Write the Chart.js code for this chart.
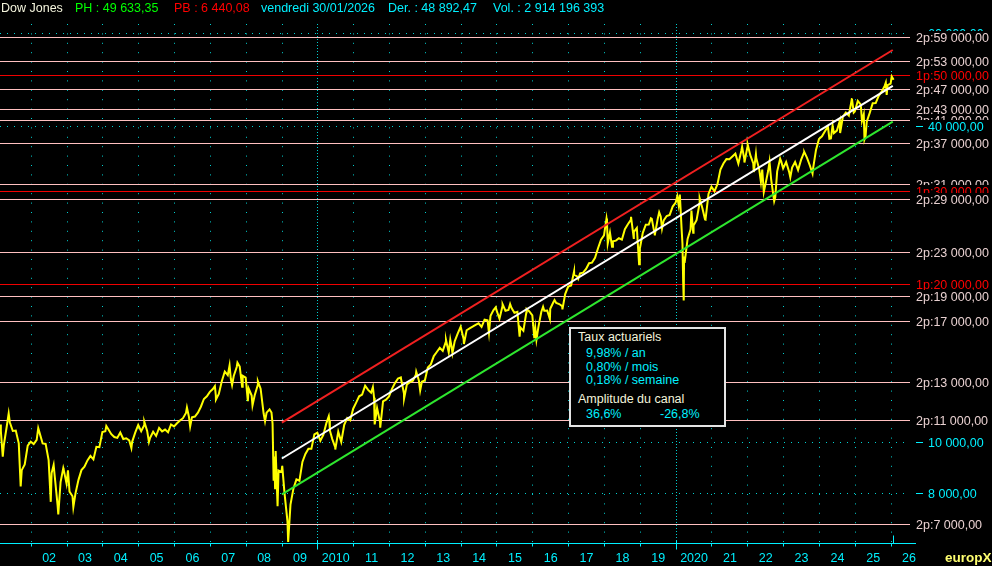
<!DOCTYPE html>
<html><head><meta charset="utf-8">
<script src="https://cdn.jsdelivr.net/npm/chart.js@4/dist/chart.umd.min.js"></script>
<style>
html,body{margin:0;padding:0;background:#000;overflow:hidden}
#wrap{position:relative;width:992px;height:566px;background:#000}
canvas{position:absolute;left:0;top:0}
.t{position:absolute;font-family:"Liberation Sans",Arial,sans-serif;font-size:12.5px;white-space:nowrap;line-height:15px}
#box{position:absolute;left:569px;top:327px;width:153px;height:96px;border:2px solid #E4E4E4;background:#000}
</style></head><body>
<div id="wrap">
<canvas id="c" width="992" height="566"></canvas>
<div class="t" style="left:1px;top:0.5px;color:#F4F4DC">Dow Jones</div>
<div class="t" style="left:75px;top:0.5px;color:#00FF00">PH : 49 633,35</div>
<div class="t" style="left:174px;top:0.5px;color:#FF0000">PB : 6 440,08</div>
<div class="t" style="left:261px;top:0.5px;color:#00F0FF">vendredi 30/01/2026</div>
<div class="t" style="left:388px;top:0.5px;color:#00F0FF">Der. : 48 892,47</div>
<div class="t" style="left:493px;top:0.5px;color:#00F0FF">Vol. : 2 914 196 393</div>
<div id="box"></div>
<div class="t" style="left:578px;top:329.5px;color:#F4F4DC">Taux actuariels</div>
<div class="t" style="left:586px;top:345.5px;color:#00F0FF">9,98% / an</div>
<div class="t" style="left:586px;top:359.5px;color:#00F0FF">0,80% / mois</div>
<div class="t" style="left:586px;top:373px;color:#00F0FF">0,18% / semaine</div>
<div class="t" style="left:578px;top:391.5px;color:#F4F4DC">Amplitude du canal</div>
<div class="t" style="left:586px;top:407px;color:#00F0FF">36,6%</div>
<div class="t" style="left:660px;top:407px;color:#00F0FF">-26,8%</div>
<div class="t" style="left:945px;top:549.5px;color:#FFFF70;font-weight:bold;font-size:13.5px">europX</div>
</div>
<script>
// ---------- DATA ----------
// Monthly closes starting Feb 2001 (end of month), ending Jan 2026
const startYear = 2001, startMonth = 2;
const monthlyClose = [
  10495, 9879, 10735, 10912, 10502, 10523, 9950, 8848, 9075, 9852, 10022,
  9920, 10106, 10404, 9946, 9925, 9243, 8737, 8664, 7592, 8397, 8896, 8342,
  8054, 7891, 7992, 8480, 8850, 8985, 9234, 9416, 9275, 9801, 9782, 10454,
  10488, 10584, 10358, 10226, 10188, 10435, 10140, 10174, 10080, 10027, 10428, 10783,
  10490, 10766, 10504, 10193, 10467, 10275, 10641, 10482, 10569, 10440, 10806, 10718,
  10865, 10993, 11109, 11367, 11168, 11150, 11186, 11381, 11679, 12081, 12221, 12463,
  12622, 12269, 12354, 13063, 13628, 13409, 13212, 13358, 13896, 13930, 13372, 13265,
  12650, 12266, 12263, 12820, 12638, 11350, 11378, 11544, 10851, 9325, 8829, 8776,
  8001, 7063, 7609, 8168, 8500, 8447, 9172, 9496, 9712, 9713, 10345, 10428,
  10067, 10325, 10857, 11009, 10137, 9774, 10466, 10015, 10788, 11118, 11006, 11578,
  11892, 12226, 12320, 12811, 12570, 12414, 12143, 11614, 10913, 11955, 12046, 12218,
  12633, 12952, 13212, 13214, 12393, 12880, 13009, 13091, 13437, 13096, 13026, 13104,
  13861, 14054, 14579, 14840, 15116, 14910, 15500, 14810, 15130, 15546, 16086, 16577,
  15699, 16322, 16458, 16581, 16717, 16827, 16563, 17098, 17043, 17391, 17828, 17823,
  17165, 18133, 17776, 17841, 18011, 17620, 17690, 16528, 16285, 17664, 17720, 17425,
  16466, 16517, 17685, 17774, 17787, 17930, 18432, 18401, 18308, 18142, 19124, 19763,
  19864, 20812, 20663, 20940, 21009, 21350, 21891, 21948, 22405, 23377, 24272, 24719,
  26149, 25029, 24103, 24163, 24416, 24271, 25415, 25965, 26458, 25116, 25538, 23327,
  24999, 25916, 25929, 26593, 24815, 26600, 26864, 26403, 26917, 27046, 28051, 28538,
  28256, 25409, 21917, 24346, 25383, 25813, 26428, 28430, 27782, 26502, 29639, 30606,
  29983, 30932, 32982, 33875, 34529, 34503, 34935, 35361, 33844, 35820, 34484, 36338,
  35132, 33893, 34678, 32977, 32990, 30775, 32845, 31510, 28726, 32733, 34590, 33147,
  34086, 32657, 33274, 34098, 32908, 34408, 35560, 34722, 33508, 33053, 35951, 37690,
  38150, 38996, 39807, 37816, 38686, 39119, 40843, 41563, 42330, 41763, 44911, 42544,
  44545, 43841, 42002, 40669, 42270, 44095, 44131, 45545, 46398, 47563, 47716, 48063,
  48892
];
// Intra-month swings [decimal year, value]
const swingPoints = [
  [2001.143, 10800], [2001.22, 9389], [2001.385, 11337], [2001.72, 8236],
  [2002.21, 10635], [2002.56, 7702], [2002.64, 9053], [2002.77, 7286], [2002.91, 8931],
  [2003.04, 8842], [2003.19, 7524],
  [2004.11, 10737], [2004.81, 9750],
  [2005.17, 10940], [2005.30, 10012],
  [2006.36, 11642], [2006.45, 10706],
  [2007.14, 12786], [2007.17, 12050], [2007.55, 14000], [2007.62, 12846], [2007.77, 14165], [2007.90, 12743],
  [2008.06, 11971], [2008.19, 11740], [2008.34, 13058], [2008.54, 10963], [2008.72, 11388],
  [2008.78, 8451], [2008.80, 9387], [2008.82, 8176], [2008.84, 9625], [2008.89, 7552], [2009.02, 9015],
  [2009.185, 6460],
  [2010.32, 11205], [2010.35, 10520], [2010.50, 9686],
  [2011.55, 12724], [2011.60, 10810], [2011.755, 10655],
  [2012.33, 13279], [2012.42, 12101], [2012.76, 13610], [2012.87, 12542],
  [2013.59, 15658], [2013.71, 15676], [2013.77, 14776],
  [2014.09, 15373], [2014.79, 16141], [2014.98, 18053],
  [2015.17, 18288], [2015.38, 18312], [2015.645, 15871], [2015.84, 17918],
  [2016.055, 15766], [2016.115, 15660], [2016.30, 18096], [2016.49, 17140], [2016.62, 18636], [2016.84, 17888],
  [2017.165, 21115], [2017.28, 20453],
  [2018.07, 26617], [2018.105, 23860], [2018.225, 23533], [2018.755, 26828], [2018.83, 24443], [2018.98, 21792],
  [2019.31, 26656], [2019.42, 24819], [2019.54, 27359], [2019.62, 25479],
  [2020.045, 29348], [2020.117, 29551], [2020.19, 23851], [2020.21, 20189], [2020.225, 18592], [2020.235, 22552],
  [2020.44, 27572], [2020.49, 25016], [2020.67, 29100], [2020.82, 26520],
  [2021.855, 36432], [2021.92, 34022],
  [2022.01, 36800], [2022.18, 32632], [2022.24, 35295], [2022.38, 31253], [2022.46, 29888], [2022.62, 34152], [2022.78, 29210], [2022.95, 34108],
  [2023.20, 31875], [2023.59, 35630], [2023.82, 32418],
  [2024.29, 37753], [2024.38, 40004], [2024.59, 38703], [2024.92, 45014], [2024.97, 42342],
  [2025.20, 40813], [2025.27, 37645], [2025.30, 38170], [2025.865, 48254], [2025.89, 45752],
  [2026.03, 49590]
];
// Regression channel (start, end)
const channelDates = [2009.01, 2026.06];
const channelUpper = [10891, 55670];
const channelCenter = [9311, 47590];
const channelLower = [7960, 40680];
// Horizontal levels
const pinkLevels = [59000, 53000, 47000, 43000, 41000, 37000, 31000, 29000, 23000, 19000, 17000, 13000, 11000, 7000];
const redLevels = [50000, 30000, 20000];
const gridValues = [60000, 50000, 40000, 30000, 20000, 10000, 8000];
// X axis
const yearTicks = [2002,2003,2004,2005,2006,2007,2008,2009,2010,2011,2012,2013,2014,2015,2016,2017,2018,2019,2020,2021,2022,2023,2024,2025,2026];
const yearLabels = ['02','03','04','05','06','07','08','09','2010','11','12','13','14','15','16','17','18','19','2020','21','22','23','24','25','26'];
const decadeYears = [2010, 2020];
const currentDate = 2026.08;

// ---------- BUILD ----------
const X_MIN = 2001.143, X_MAX = 2026.708;
const Y_MIN = 6432, Y_MAX = 63480;
const LEVEL_END = 2026.54;

const pricePts = monthlyClose.map((v, i) => ({x: startYear + (startMonth + i) / 12, y: v}))
  .concat(swingPoints.map(p => ({x: p[0], y: p[1]})))
  .sort((a, b) => a.x - b.x);
const mk = arr => channelDates.map((d, i) => ({x: d, y: arr[i]}));

const CYAN = '#00F0FF', DOT = '#00D0D0', FONT = '12.5px "Liberation Sans", Arial, sans-serif';
const fmt = v => String(v).replace(/\B(?=(\d{3})+(?!\d))/g, ' ') + ',00';

const decor = {
  id: 'decor',
  beforeDatasetsDraw(chart) {
    const {ctx, chartArea: a, scales: {x, y}} = chart;
    const endPx = Math.round(x.getPixelForValue(LEVEL_END));
    ctx.save();
    ctx.lineWidth = 1;
    ctx.strokeStyle = DOT;
    for (const yr of yearTicks) {
      const px = Math.round(x.getPixelForValue(yr)) + 0.5;
      ctx.setLineDash(decadeYears.includes(yr) ? [1, 2] : [1, 8.4]);
      ctx.beginPath(); ctx.moveTo(px, a.top + 4); ctx.lineTo(px, a.bottom); ctx.stroke();
    }
    ctx.setLineDash([1, 6]);
    for (const v of gridValues) {
      const py = Math.round(y.getPixelForValue(v)) + 0.5;
      ctx.beginPath(); ctx.moveTo(a.left, py); ctx.lineTo(endPx, py); ctx.stroke();
    }
    ctx.setLineDash([]);
    ctx.strokeStyle = '#FFC0C0';
    for (const v of pinkLevels) {
      const py = Math.round(y.getPixelForValue(v)) + 0.5;
      ctx.beginPath(); ctx.moveTo(a.left, py); ctx.lineTo(endPx, py); ctx.stroke();
    }
    ctx.strokeStyle = '#F00000';
    for (const v of redLevels) {
      const py = Math.round(y.getPixelForValue(v)) + 0.5;
      ctx.beginPath(); ctx.moveTo(a.left, py); ctx.lineTo(endPx, py); ctx.stroke();
    }
    ctx.restore();
  },
  afterDraw(chart) {
    const {ctx, chartArea: a, scales: {x, y}} = chart;
    ctx.save();
    // x axis
    const ay = Math.round(a.bottom) + 0.5;
    ctx.strokeStyle = CYAN; ctx.lineWidth = 1;
    ctx.beginPath(); ctx.moveTo(a.left, ay); ctx.lineTo(a.right, ay); ctx.stroke();
    for (const yr of yearTicks) {
      const px = Math.round(x.getPixelForValue(yr)) + 0.5;
      ctx.beginPath();
      if (decadeYears.includes(yr)) { ctx.moveTo(px, ay - 3); ctx.lineTo(px, ay + 6); }
      else { ctx.moveTo(px, ay); ctx.lineTo(px, ay + 3); }
      ctx.stroke();
    }
    const cpx = Math.round(x.getPixelForValue(currentDate)) + 0.5;
    ctx.beginPath(); ctx.moveTo(cpx, ay - 8); ctx.lineTo(cpx, ay); ctx.stroke();
    ctx.font = FONT; ctx.fillStyle = CYAN; ctx.textAlign = 'center'; ctx.textBaseline = 'alphabetic';
    yearTicks.forEach((yr, i) => {
      ctx.fillText(yearLabels[i], x.getPixelForValue(yr + 0.5) + 0.5, 561.5);
    });
    // right labels
    ctx.textAlign = 'left';
    const labels = [];
    gridValues.forEach(v => labels.push({v, kind: 'grid', ord: 0}));
    pinkLevels.forEach(v => labels.push({v, kind: 'pink', ord: 1}));
    redLevels.forEach(v => labels.push({v, kind: 'red', ord: 1}));
    labels.sort((p, q) => (q.v - p.v) || (p.ord - q.ord));
    for (const L of labels) {
      const py = Math.round(y.getPixelForValue(L.v));
      ctx.fillStyle = '#000';
      ctx.fillRect(913, py - 6, 79, 13);
      if (L.kind === 'grid') {
        ctx.strokeStyle = CYAN;
        ctx.beginPath(); ctx.moveTo(916, py + 0.5); ctx.lineTo(923, py + 0.5); ctx.stroke();
        ctx.fillStyle = CYAN;
        ctx.fillText(fmt(L.v), 928, py + 4.5);
      } else {
        ctx.fillStyle = L.kind === 'pink' ? '#E8D0D0' : '#FF0000';
        ctx.fillText((L.kind === 'pink' ? '2p:' : '1p:') + fmt(L.v), 916, py + 4.5);
      }
    }
    ctx.restore();
  }
};

new Chart(document.getElementById('c'), {
  type: 'line',
  data: {
    datasets: [
      {label: 'haut', data: mk(channelUpper), borderColor: '#F02020', borderWidth: 2, order: 0},
      {label: 'milieu', data: mk(channelCenter), borderColor: '#FFFFFF', borderWidth: 2, order: 0},
      {label: 'bas', data: mk(channelLower), borderColor: '#2EE62E', borderWidth: 2, order: 0},
      {label: 'Dow Jones', data: pricePts, borderColor: '#FFFF00', borderWidth: 2, order: 1}
    ]
  },
  options: {
    responsive: false, animation: false, events: [],
    layout: {padding: {left: 0, right: 76, top: 20, bottom: 23}},
    plugins: {legend: {display: false}, tooltip: {enabled: false}},
    elements: {point: {radius: 0}, line: {tension: 0}},
    scales: {
      x: {type: 'linear', display: false, min: X_MIN, max: X_MAX, bounds: 'data'},
      y: {type: 'logarithmic', display: false, min: Y_MIN, max: Y_MAX, bounds: 'data'}
    }
  },
  plugins: [decor]
});
</script>
</body></html>
